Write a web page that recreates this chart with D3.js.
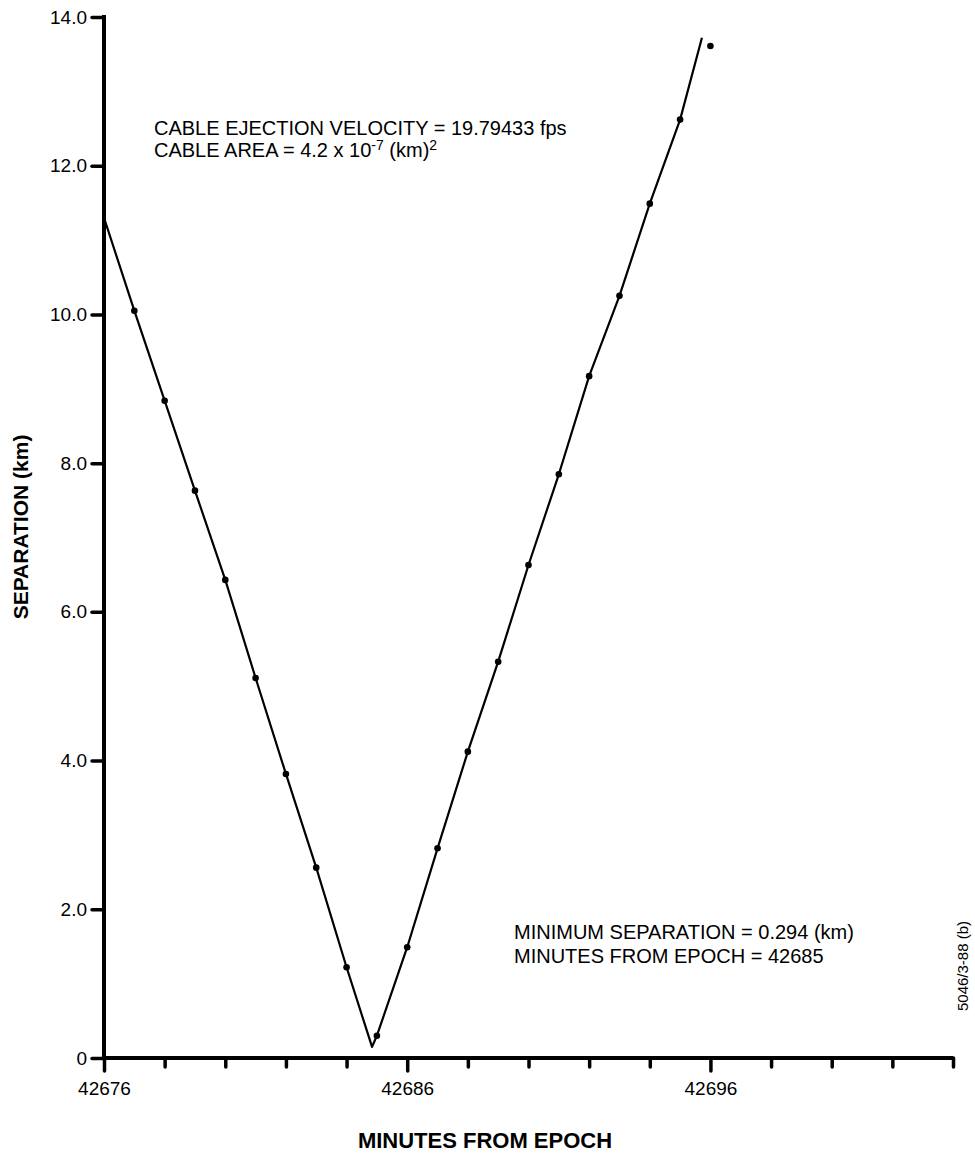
<!DOCTYPE html>
<html>
<head>
<meta charset="utf-8">
<script src="https://cdn.jsdelivr.net/npm/d3@7"></script>
<style>
  html, body { margin: 0; padding: 0; background: #fff; }
  svg { display: block; }
  text { font-family: "Liberation Sans", Arial, Helvetica, sans-serif; fill: #000; }
</style>
</head>
<body>
<svg id="chart" width="975" height="1157"></svg>
<script>
// ---- data ----
const xTickValues = [42676, 42678, 42680, 42682, 42684, 42686, 42688, 42690, 42692, 42694, 42696, 42698, 42700, 42702, 42704];
const xTickLabels = ["42676", "", "", "", "", "42686", "", "", "", "", "42696", "", "", "", ""];
const yTickValues = [0, 2, 4, 6, 8, 10, 12, 14];
const yTickLabels = ["0", "2.0", "4.0", "6.0", "8.0", "10.0", "12.0", "14.0"];

// plotted points (minutes from epoch, separation km)
const dotMinutes = [42677, 42678, 42679, 42680, 42681, 42682, 42683, 42684,
                    42685, 42686, 42687, 42688, 42689, 42690, 42691, 42692, 42693, 42694, 42695, 42696];
const dotSeparation = [10.05, 8.84, 7.63, 6.43, 5.11, 3.82, 2.56, 1.22,
                       0.30, 1.49, 2.82, 4.12, 5.33, 6.63, 7.85, 9.17, 10.25, 11.49, 12.62, 13.61];

// line vertices
const lineMinutes = [42676, 42677, 42678, 42679, 42680, 42681, 42682, 42683, 42684, 42684.84,
                     42685, 42686, 42687, 42688, 42689, 42690, 42691, 42692, 42693, 42694, 42695, 42695.72];
const lineSeparation = [11.30, 10.05, 8.84, 7.63, 6.43, 5.11, 3.82, 2.56, 1.22, 0.15,
                        0.30, 1.49, 2.82, 4.12, 5.33, 6.63, 7.85, 9.17, 10.25, 11.49, 12.62, 13.72];

const annotTop = ["CABLE EJECTION VELOCITY = 19.79433 fps"];
const annotBottom = ["MINIMUM SEPARATION = 0.294 (km)", "MINUTES FROM EPOCH = 42685"];

// ---- drawing ----
const svg = d3.select("#chart");
const x = d3.scaleLinear().domain([42676, 42704]).range([104, 953]);
const y = d3.scaleLinear().domain([0, 14]).range([1058, 17]);

// curve
const linePts = lineMinutes.map((m, i) => [m, lineSeparation[i]]);
svg.append("path")
  .datum(linePts)
  .attr("fill", "none")
  .attr("stroke", "#000")
  .attr("stroke-width", 2.2)
  .attr("stroke-linejoin", "round")
  .attr("d", d3.line().x(d => x(d[0])).y(d => y(d[1])));

// dots
svg.append("g").selectAll("circle")
  .data(dotMinutes.map((m, i) => [m, dotSeparation[i]]))
  .join("circle")
  .attr("cx", d => x(d[0]))
  .attr("cy", d => y(d[1]))
  .attr("r", 3.3)
  .attr("fill", "#000");

// x axis
const xAxis = d3.axisBottom(x)
  .tickValues(xTickValues)
  .tickFormat((d, i) => xTickLabels[i])
  .tickSizeOuter(0)
  .tickSize(9)
  .tickPadding(10);
const gx = svg.append("g").attr("transform", `translate(0,${y(0)})`).call(xAxis);
gx.select(".domain").attr("stroke", "#000").attr("stroke-width", 4).attr("d", `M${x(42676)},0H${x(42704)}`);
gx.selectAll(".tick line").attr("stroke", "#000").attr("stroke-width", 3.5).attr("stroke-linecap", "round")
  .attr("y2", (d, i) => xTickLabels[i] ? 13 : 9);
gx.selectAll(".tick text")
  .attr("font-size", 19)
  .attr("font-family", "'Liberation Sans', Arial, sans-serif")
  .attr("fill", "#000")
  .attr("dy", null)
  .attr("y", 37);

// y axis
const yAxis = d3.axisLeft(y)
  .tickValues(yTickValues)
  .tickFormat((d, i) => yTickLabels[i])
  .tickSizeOuter(0)
  .tickSize(12)
  .tickPadding(5);
const gy = svg.append("g").attr("transform", `translate(${x(42676)},0)`).call(yAxis);
gy.select(".domain").attr("stroke", "#000").attr("stroke-width", 4).attr("d", `M0,${y(14) - 2}V${y(0) + 2}`);
gy.selectAll(".tick line").attr("stroke", "#000").attr("stroke-width", 3.5).attr("stroke-linecap", "round");
gy.selectAll(".tick text")
  .attr("font-size", 19)
  .attr("font-family", "'Liberation Sans', Arial, sans-serif")
  .attr("fill", "#000");

// axis titles
svg.append("text")
  .attr("x", 485).attr("y", 1148)
  .attr("text-anchor", "middle")
  .attr("font-size", 22).attr("font-weight", "bold")
  .text("MINUTES FROM EPOCH");
svg.append("text")
  .attr("transform", "translate(28,527) rotate(-90)")
  .attr("text-anchor", "middle")
  .attr("font-size", 21).attr("font-weight", "bold")
  .text("SEPARATION (km)");

// annotations
svg.append("text").attr("x", 154).attr("y", 135).attr("font-size", 20).text(annotTop[0]);
const t2 = svg.append("text").attr("x", 154).attr("y", 157).attr("font-size", 20);
t2.append("tspan").text("CABLE AREA = 4.2 x 10");
t2.append("tspan").attr("dy", -7).attr("font-size", 14).text("-7");
t2.append("tspan").attr("dy", 7).text(" (km)");
t2.append("tspan").attr("dy", -7).attr("font-size", 14).text("2");

svg.append("g").selectAll("text")
  .data(annotBottom)
  .join("text")
  .attr("x", 514)
  .attr("y", (d, i) => 939 + i * 24)
  .attr("font-size", 20)
  .text(d => d);

// figure id
svg.append("text")
  .attr("transform", "translate(968,966) rotate(-90)")
  .attr("text-anchor", "middle")
  .attr("font-size", 15)
  .text("5046/3-88 (b)");
</script>
</body>
</html>
